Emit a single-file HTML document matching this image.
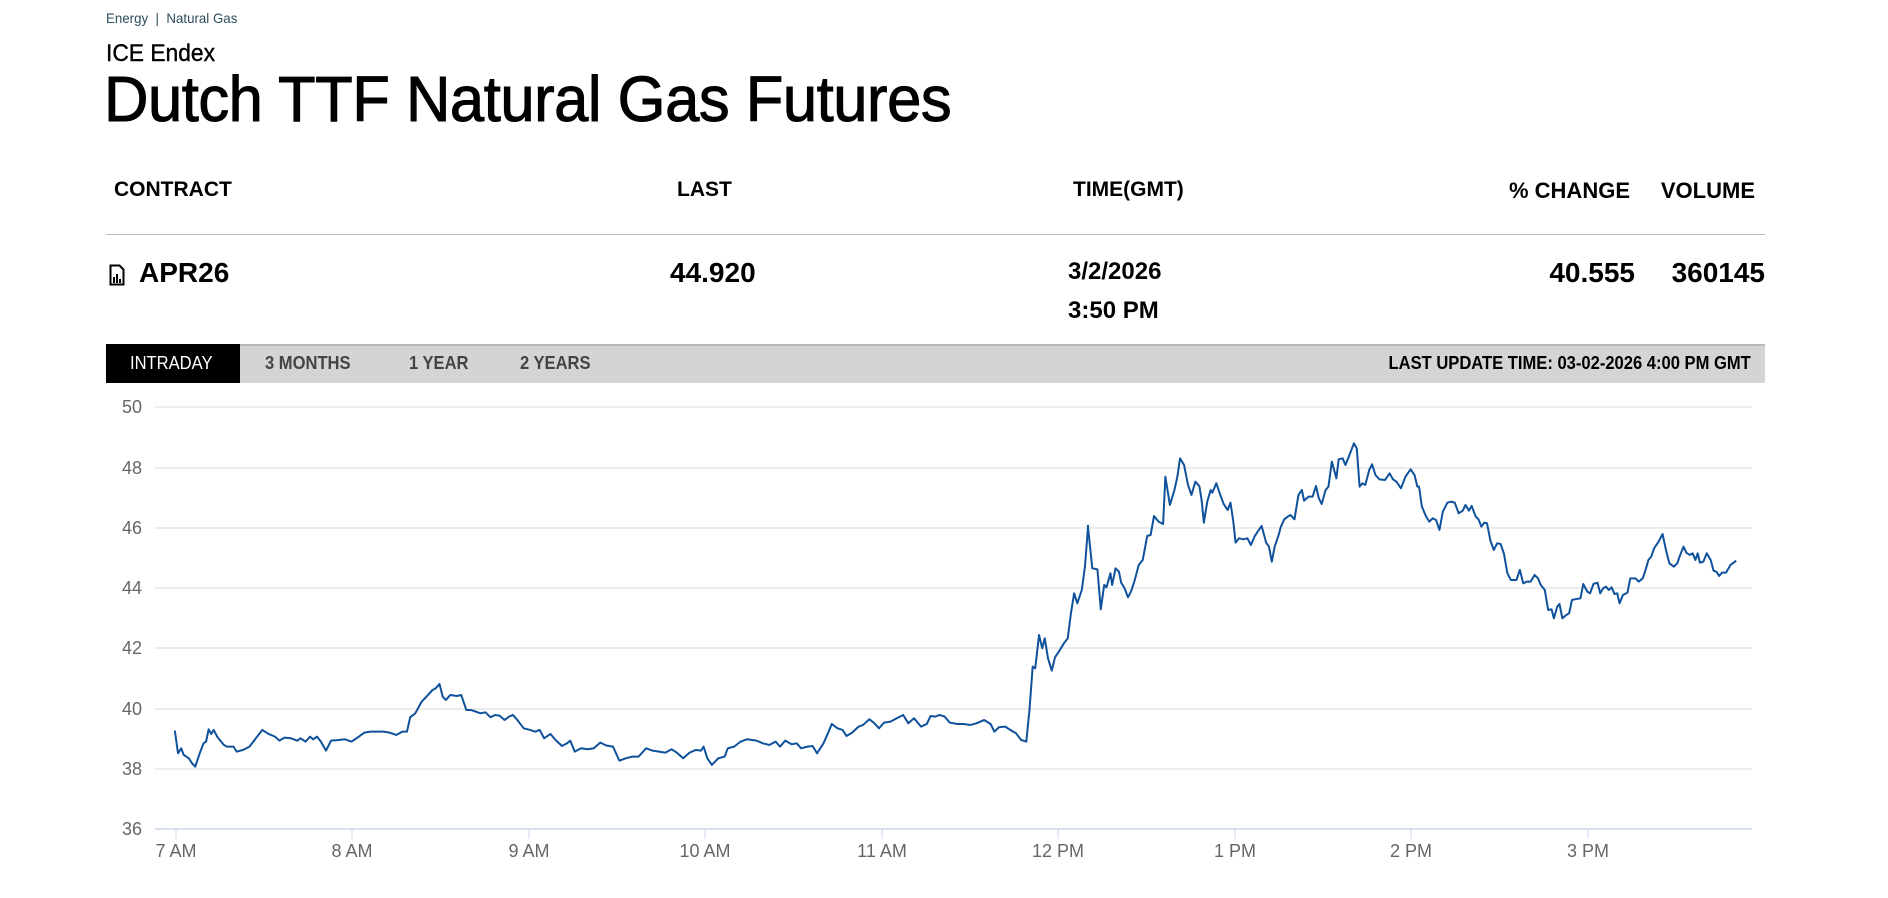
<!DOCTYPE html>
<html><head><meta charset="utf-8"><style>
body{margin:0;width:1888px;height:898px;background:#fff;font-family:"Liberation Sans",sans-serif;position:relative;overflow:hidden}
.a{position:absolute;white-space:nowrap}
.sx{transform-origin:left center}
.b{font-weight:bold;color:#000}
.r{text-align:right;transform-origin:right center}
</style></head><body>
<div class="a sx" style="left:106px;top:10px;font-size:14px;color:#2b4d5c;transform:scaleX(0.95)">Energy &nbsp;|&nbsp; Natural Gas</div>
<div class="a sx" style="left:106px;top:40px;font-size:24px;color:#000;transform:scaleX(0.95);-webkit-text-stroke:0.4px #000">ICE Endex</div>
<div class="a sx" style="left:104px;top:62px;font-size:64px;color:#000;transform:scaleX(0.962);letter-spacing:-0.5px;-webkit-text-stroke:1px #000">Dutch TTF Natural Gas Futures</div>

<div class="a b sx" style="left:114px;top:178px;font-size:21px">CONTRACT</div>
<div class="a b sx" style="left:677px;top:178px;font-size:21px">LAST</div>
<div class="a b sx" style="left:1073px;top:178px;font-size:21px">TIME(GMT)</div>
<div class="a b r" style="right:258px;top:178px;font-size:22px">% CHANGE</div>
<div class="a b r" style="right:133px;top:178px;font-size:22px">VOLUME</div>
<div class="a" style="left:106px;top:234px;width:1659px;height:1px;background:#bbb"></div>

<svg class="a" style="left:109px;top:264px" width="16" height="22" viewBox="0 0 16 22"><path d="M1.5 1.5h9l4 4v15h-13z" fill="none" stroke="#000" stroke-width="2"/><rect x="4" y="13" width="2" height="6" fill="#000"/><rect x="7" y="10" width="2" height="9" fill="#000"/><rect x="10" y="15" width="2" height="4" fill="#000"/></svg>
<div class="a b sx" style="left:139px;top:257px;font-size:28px">APR26</div>
<div class="a b sx" style="left:670px;top:257px;font-size:28px">44.920</div>
<div class="a b sx" style="left:1068px;top:258px;font-size:24px">3/2/2026</div>
<div class="a b sx" style="left:1068px;top:297px;font-size:24px">3:50 PM</div>
<div class="a b r" style="right:253px;top:257px;font-size:28px">40.555</div>
<div class="a b r" style="right:123px;top:257px;font-size:28px">360145</div>

<div class="a" style="left:106px;top:344px;width:1659px;height:39px;background:#d4d4d4;border-top:2px solid #b8b8b8;box-sizing:border-box"></div>
<div class="a" style="left:106px;top:344px;width:134px;height:39px;background:#000"></div>
<div class="a sx" style="left:130px;top:353px;font-size:18px;color:#fff;transform:scaleX(0.92)">INTRADAY</div>
<div class="a sx" style="left:265px;top:353px;font-size:18px;color:#444;font-weight:bold;transform:scaleX(0.92)">3 MONTHS</div>
<div class="a sx" style="left:409px;top:353px;font-size:18px;color:#444;font-weight:bold;transform:scaleX(0.92)">1 YEAR</div>
<div class="a sx" style="left:520px;top:353px;font-size:18px;color:#444;font-weight:bold;transform:scaleX(0.92)">2 YEARS</div>
<div class="a b r" style="right:137px;top:353px;font-size:18px;transform:scaleX(0.92)">LAST UPDATE TIME: 03-02-2026 4:00 PM GMT</div>

<svg class="a" style="left:0;top:0" width="1888" height="898">
<g stroke="#e6e6e6" stroke-width="1.5">
<line x1="155" x2="1752" y1="407" y2="407"/><line x1="155" x2="1752" y1="468" y2="468"/>
<line x1="155" x2="1752" y1="528" y2="528"/><line x1="155" x2="1752" y1="588" y2="588"/>
<line x1="155" x2="1752" y1="648" y2="648"/><line x1="155" x2="1752" y1="709" y2="709"/>
<line x1="155" x2="1752" y1="769" y2="769"/>
</g>
<line x1="155" x2="1752" y1="829" y2="829" stroke="#ccd6eb" stroke-width="1.5"/>
<g stroke="#ccd6eb" stroke-width="1">
<line x1="176" x2="176" y1="829" y2="839"/><line x1="352" x2="352" y1="829" y2="839"/><line x1="529" x2="529" y1="829" y2="839"/><line x1="705" x2="705" y1="829" y2="839"/><line x1="882" x2="882" y1="829" y2="839"/><line x1="1058" x2="1058" y1="829" y2="839"/><line x1="1235" x2="1235" y1="829" y2="839"/><line x1="1411" x2="1411" y1="829" y2="839"/><line x1="1588" x2="1588" y1="829" y2="839"/>
</g>
<g font-family="Liberation Sans, sans-serif" font-size="18" fill="#666" text-anchor="end">
<text x="142" y="413">50</text><text x="142" y="474">48</text><text x="142" y="534">46</text><text x="142" y="594">44</text><text x="142" y="654">42</text><text x="142" y="715">40</text><text x="142" y="775">38</text><text x="142" y="835">36</text>
</g>
<g font-family="Liberation Sans, sans-serif" font-size="18" fill="#666" text-anchor="middle">
<text x="176" y="857">7 AM</text><text x="352" y="857">8 AM</text><text x="529" y="857">9 AM</text><text x="705" y="857">10 AM</text><text x="882" y="857">11 AM</text><text x="1058" y="857">12 PM</text><text x="1235" y="857">1 PM</text><text x="1411" y="857">2 PM</text><text x="1588" y="857">3 PM</text>
</g>
<g transform="translate(90,380) scale(0.6378,0.3333)">
<polyline fill="none" stroke="#0f529b" stroke-width="2" vector-effect="non-scaling-stroke" stroke-linejoin="round" points="133,1052 138,1120 143,1105 147,1125 155,1135 160,1150 165,1160 172,1120 178,1090 182,1085 186,1048 190,1062 194,1050 200,1072 210,1095 215,1100 225,1100 230,1115 240,1110 250,1100 260,1075 270,1050 280,1062 290,1070 297,1082 305,1073 315,1075 325,1082 330,1075 338,1085 345,1070 350,1078 356,1070 362,1085 370,1112 378,1082 390,1080 400,1078 410,1085 420,1072 430,1058 440,1055 450,1055 460,1055 470,1058 480,1065 490,1055 497,1055 502,1012 510,1000 520,965 530,945 537,930 542,925 548,912 553,950 558,960 565,945 575,948 582,945 590,990 597,990 605,995 612,1000 620,997 628,1012 635,1005 642,1007 650,1020 657,1010 663,1005 670,1020 680,1045 690,1050 698,1055 705,1050 712,1075 722,1062 730,1080 740,1098 748,1090 753,1082 760,1115 770,1105 780,1108 790,1105 800,1088 810,1097 820,1100 830,1142 840,1135 850,1130 860,1130 872,1105 882,1112 892,1115 902,1118 912,1108 920,1118 930,1135 940,1118 950,1110 958,1112 962,1100 968,1135 975,1155 985,1135 995,1130 1000,1105 1010,1100 1020,1085 1030,1078 1045,1082 1055,1090 1065,1095 1075,1085 1082,1100 1090,1082 1100,1093 1108,1090 1115,1105 1125,1100 1133,1098 1140,1120 1150,1090 1157,1060 1163,1032 1172,1045 1180,1050 1186,1068 1195,1058 1205,1040 1212,1035 1222,1018 1230,1030 1237,1045 1245,1028 1255,1025 1265,1015 1275,1005 1283,1030 1292,1015 1303,1040 1312,1032 1318,1008 1325,1010 1332,1005 1340,1010 1348,1028 1360,1032 1370,1032 1380,1035 1390,1030 1402,1020 1412,1032 1418,1055 1425,1042 1435,1040 1443,1050 1452,1060 1460,1080 1468,1085 1473,990 1478,860 1482,865 1488,765 1493,805 1497,775 1502,835 1508,872 1513,832 1520,812 1527,790 1533,775 1538,700 1543,640 1548,670 1555,630 1560,560 1565,435"/>
</g>
<g transform="translate(1000,380) scale(0.5663,0.3333)">
<polyline fill="none" stroke="#0f529b" stroke-width="2" vector-effect="non-scaling-stroke" stroke-linejoin="round" points="155,435 163,565 172,568 178,688 184,615 188,622 195,580 198,615 204,565 210,575 214,608 220,625 226,652 232,632 238,600 245,555 252,540 260,468 266,465 272,408 280,425 288,432 292,290 300,375 308,330 313,292 318,235 325,255 332,315 338,345 345,305 352,318 356,360 360,428 366,365 372,330 375,338 382,310 388,340 395,372 402,390 407,368 412,425 416,488 422,475 430,478 437,475 443,495 450,468 455,455 462,438 470,488 475,500 480,545 485,500 492,465 496,440 502,418 508,410 513,405 520,418 527,345 533,330 537,362 545,350 552,350 558,318 563,355 568,372 575,330 580,320 586,245 594,295 598,238 605,235 610,255 616,230 620,212 625,190 630,205 635,320 640,310 645,315 652,270 657,253 663,285 670,298 680,300 688,280 694,298 700,305 708,325 716,290 725,268 732,285 737,320 740,320 745,380 752,408 758,425 764,415 770,420 776,450 782,395 790,368 796,365 803,368 810,400 817,392 822,375 828,392 833,378 840,410 845,418 850,440 855,428 860,430 866,482 872,510 878,490 884,492 890,522 896,580 902,600 912,600 918,570 924,610 930,605 937,605 944,585 950,595 955,615 962,630 968,690 974,688 978,715 984,680 988,672 993,715 1000,705 1005,700 1010,660 1015,658 1025,655 1030,612 1037,635 1042,640 1048,612 1055,608 1060,640 1065,625 1070,620 1075,630 1080,622 1085,642 1090,640 1094,670 1100,645 1108,638 1113,595 1122,595 1128,605 1135,595 1140,570 1145,540 1150,530 1155,505 1163,485 1170,462 1176,510 1182,550 1190,560 1196,550 1200,530 1207,500 1212,518 1218,525 1223,520 1228,540 1232,520 1236,548 1242,545 1248,520 1255,540 1260,572 1265,575 1270,588 1275,578 1282,578 1290,555 1300,542"/>
</g>
</svg>
</body></html>
